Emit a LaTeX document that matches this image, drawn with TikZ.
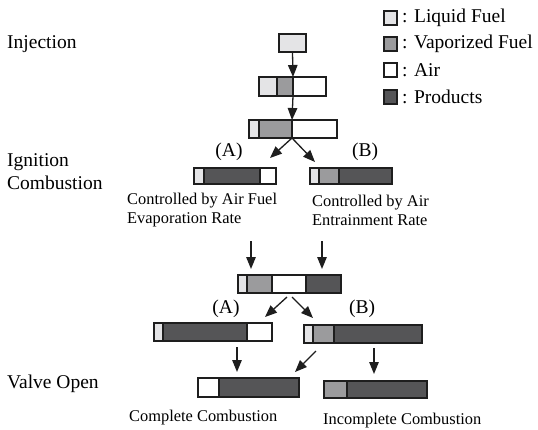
\documentclass[tikz,border=0pt]{standalone}
\usepackage{fontspec}
\setmainfont{Liberation Serif}
\usetikzlibrary{arrows.meta}
\definecolor{lfc}{HTML}{E4E4E6}
\definecolor{vfc}{HTML}{9B9B9D}
\definecolor{prc}{HTML}{555557}
\definecolor{edgec}{HTML}{1E1E1E}
\tikzset{
  seg/.style={draw=edgec, line width=1.8pt, inner sep=0pt, outer sep=0pt, anchor=north west},
  lf/.style={seg, fill=lfc},
  vf/.style={seg, fill=vfc},
  air/.style={seg, fill=white},
  pr/.style={seg, fill=prc},
  arr/.style={line width=1.3pt, draw=edgec, -{Triangle[length=12pt,width=9.5pt]}},
  big/.style={font=\fontsize{19.5}{22}\selectfont, inner sep=0pt},
  small/.style={font=\fontsize{16.4}{19}\selectfont, inner sep=0pt, align=left}
}
\newcommand\Seg[6]{\node[#1, minimum width=#4pt, minimum height=#6pt] (#2) at (#3,#5) {};}
\begin{document}
\begin{tikzpicture}[x=1pt,y=-1pt]
\useasboundingbox (0,0) rectangle (538,429);
% left labels
\node[big, anchor=west] (injection) at (7,44) {Injection};
\node[big, anchor=west] (ignition) at (7,162) {Ignition};
\node[big, anchor=west] (combustion) at (7,183) {Combustion};
\node[big, anchor=west] (valve) at (7,384) {Valve Open};
% legend
\Seg{lf}{k1}{384}{13}{11}{14}
\Seg{vf}{k2}{384}{13}{37}{14}
\Seg{air}{k3}{384}{13}{63}{14}
\Seg{pr}{k4}{384}{13}{90}{14}
\node[big, anchor=west] (t1) at (402,18) {: Liquid Fuel};
\node[big, anchor=west] (t2) at (402,44) {: Vaporized Fuel};
\node[big, anchor=west] (t3) at (402,70) {: Air};
\node[big, anchor=west] (t4) at (402,97) {: Products};
% bar 1
\Seg{lf}{a1}{279}{27}{34}{18}
% bar 2
\Seg{lf}{b2l}{259}{18}{77}{19}
\Seg{vf}{b2v}{277}{16}{77}{19}
\Seg{air}{b2a}{293}{33}{77}{19}
% bar 3
\Seg{lf}{b3l}{249}{10}{120}{18}
\Seg{vf}{b3v}{259}{33}{120}{18}
\Seg{air}{b3a}{292}{45}{120}{18}
% A1
\Seg{lf}{ca1l}{194}{10}{168}{16}
\Seg{pr}{ca1p}{204}{56}{168}{16}
\Seg{air}{ca1a}{260}{16}{168}{16}
% B1
\Seg{lf}{cb1l}{310}{9}{168}{16}
\Seg{vf}{cb1v}{319}{20}{168}{16}
\Seg{pr}{cb1p}{339}{53}{168}{16}
% bar 4
\Seg{lf}{d4l}{238}{9}{275}{18}
\Seg{vf}{d4v}{247}{25}{275}{18}
\Seg{air}{d4a}{272}{34}{275}{18}
\Seg{pr}{d4p}{306}{35}{275}{18}
% A2
\Seg{lf}{ea2l}{154}{9}{323}{18}
\Seg{pr}{ea2p}{163}{84}{323}{18}
\Seg{air}{ea2a}{247}{25}{323}{18}
% B2
\Seg{lf}{eb2l}{304}{9}{325}{18}
\Seg{vf}{eb2v}{313}{21}{325}{18}
\Seg{pr}{eb2p}{334}{88}{325}{18}
% C
\Seg{air}{fca}{198}{21}{378}{19}
\Seg{pr}{fcp}{219}{80}{378}{19}
% D
\Seg{vf}{fdv}{324}{23}{381}{17}
\Seg{pr}{fdp}{347}{80}{381}{17}
% labels
\node[big] (la1) at (229,152) {(A)};
\node[big] (lb1) at (365,152) {(B)};
\node[big] (la2) at (226,309) {(A)};
\node[big] (lb2) at (362,309) {(B)};
\node[small, anchor=west] (ta) at (127,210) {Controlled by Air Fuel\\Evaporation Rate};
\node[small, anchor=west] (tb) at (312,210) {Controlled by Air\\Entrainment Rate};
\node[small, anchor=west] (tc) at (129,418) {Complete Combustion};
\node[small, anchor=west] (td) at (323,421) {Incomplete Combustion};
% coordinates for free arrow ends
\coordinate (p1) at (270,158);
\coordinate (p2) at (315,162);
\coordinate (q1s) at (251,241);
\coordinate (q1e) at (251,269);
\coordinate (q2s) at (322,241);
\coordinate (q2e) at (322,269);
\coordinate (r1s) at (287,297);
\coordinate (r1e) at (265,317);
\coordinate (r2s) at (292,297);
\coordinate (r2e) at (313,318);
\coordinate (s1s) at (237,347);
\coordinate (s1e) at (237,372);
\coordinate (s2s) at (316,351);
\coordinate (s2e) at (295,372);
\coordinate (s3s) at (374,348);
\coordinate (s3e) at (374,374);
% arrows
\draw[arr] (a1.south) -- (b2v.north east);
\draw[arr] (b2v.south east) -- (b3v.north east);
\draw[arr] (b3v.south east) -- (p1);
\draw[arr] (b3v.south east) -- (p2);
\draw[arr] (q1s) -- (q1e);
\draw[arr] (q2s) -- (q2e);
\draw[arr] (r1s) -- (r1e);
\draw[arr] (r2s) -- (r2e);
\draw[arr] (s1s) -- (s1e);
\draw[arr] (s2s) -- (s2e);
\draw[arr] (s3s) -- (s3e);
\end{tikzpicture}
\end{document}
